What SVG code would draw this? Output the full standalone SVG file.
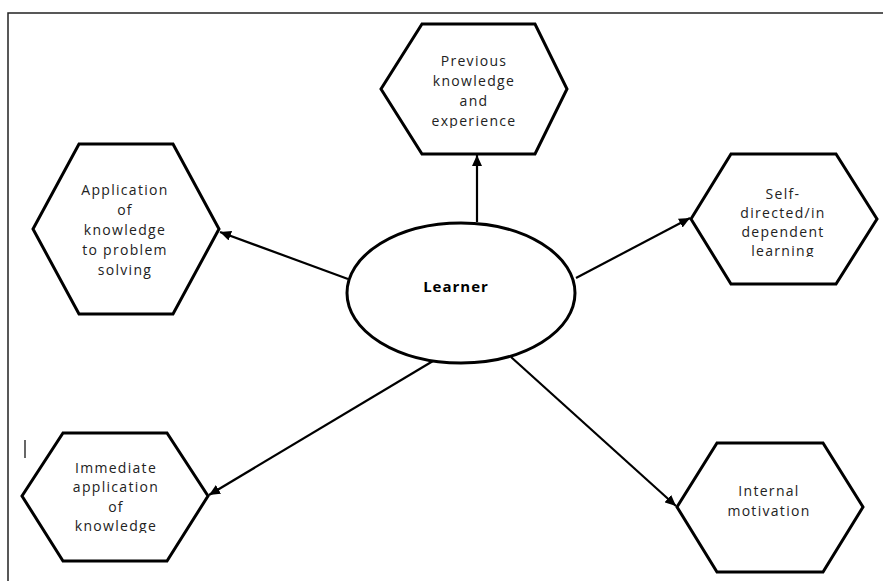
<svg xmlns="http://www.w3.org/2000/svg" width="883" height="581" viewBox="0 0 883 581">
<style>
.hex{fill:#fff;stroke:#000;stroke-width:3;stroke-linejoin:miter}
.lbl{font-family:"Open Sans","Liberation Sans",sans-serif;font-size:14px;letter-spacing:1.3px;fill:#222;text-anchor:middle}
.ctr{font-family:"Open Sans","Liberation Sans",sans-serif;font-size:15px;font-weight:bold;letter-spacing:1px;fill:#000;text-anchor:middle}
.conn{stroke:#000;stroke-width:2.2;fill:none;marker-end:url(#arr)}
.frame{stroke:#222;stroke-width:1.5;fill:none}
</style>
<defs>
<marker id="arr" markerUnits="userSpaceOnUse" markerWidth="12" markerHeight="10" refX="11" refY="5" orient="auto">
<path d="M0,0 L11,5 L0,10 Z" fill="#000"/>
</marker>
<clipPath id="c1"><rect x="380" y="20" width="190" height="108"/></clipPath>
<clipPath id="c3"><rect x="690" y="150" width="190" height="107"/></clipPath>
<clipPath id="c4"><rect x="20" y="430" width="190" height="103"/></clipPath>
</defs>
<rect width="883" height="581" fill="#fff"/>
<polyline class="frame" points="8,581 8,13 883,13"/>
<line x1="25" y1="440" x2="25" y2="458" stroke="#000" stroke-width="1.2"/>
<g id="connectors">
<line class="conn" x1="477" y1="222" x2="477" y2="155"/>
<line class="conn" x1="348" y1="279" x2="220" y2="232"/>
<line class="conn" x1="576" y1="278" x2="690" y2="218"/>
<line class="conn" x1="433" y1="361" x2="209" y2="495"/>
<line class="conn" x1="511" y1="357" x2="676" y2="506"/>
</g>
<g id="learner">
<ellipse cx="461" cy="293" rx="114" ry="70" fill="#fff" stroke="#000" stroke-width="3"/>
<text class="ctr" x="456" y="292">Learner</text>
</g>
<g id="previous">
<polygon class="hex" points="422,24 535,24 567,89 535,154 422,154 381,89"/>
<g clip-path="url(#c1)">
<text class="lbl" x="474" y="66">Previous</text>
<text class="lbl" x="474" y="86">knowledge</text>
<text class="lbl" x="474" y="106">and</text>
<text class="lbl" x="474" y="126">experience</text>
</g>
</g>
<g id="application">
<polygon class="hex" points="79,144 173,144 219,229 173,314 79,314 33,229"/>
<text class="lbl" x="125" y="195">Application</text>
<text class="lbl" x="125" y="215">of</text>
<text class="lbl" x="125" y="235">knowledge</text>
<text class="lbl" x="125" y="255">to problem</text>
<text class="lbl" x="125" y="275">solving</text>
</g>
<g id="selfdirected">
<polygon class="hex" points="731,154 836,154 877,219 836,284 731,284 691,219"/>
<g clip-path="url(#c3)">
<text class="lbl" x="783" y="199">Self-</text>
<text class="lbl" x="783" y="218">directed/in</text>
<text class="lbl" x="783" y="237">dependent</text>
<text class="lbl" x="783" y="256">learning</text>
</g>
</g>
<g id="immediate">
<polygon class="hex" points="63,433 167,433 208,496 167,561 63,561 22,496"/>
<g clip-path="url(#c4)">
<text class="lbl" x="116" y="473">Immediate</text>
<text class="lbl" x="116" y="492">application</text>
<text class="lbl" x="116" y="511.5">of</text>
<text class="lbl" x="116" y="531">knowledge</text>
</g>
</g>
<g id="internal">
<polygon class="hex" points="717,443 823,443 863,507 823,572 717,572 677,507"/>
<text class="lbl" x="769" y="496">Internal</text>
<text class="lbl" x="769" y="516">motivation</text>
</g>
</svg>
